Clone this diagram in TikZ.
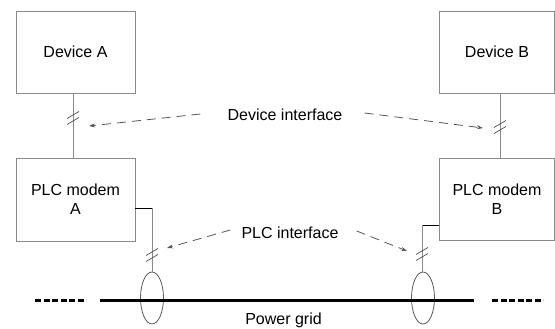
\documentclass[tikz,border=0pt]{standalone}
\usepackage{fontspec}
\setmainfont{Liberation Sans}
\usetikzlibrary{arrows.meta,shapes.geometric}
\definecolor{boxgray}{HTML}{8A8A8A}
\definecolor{arrgray}{HTML}{555555}
\tikzset{
  box/.style={draw=boxgray, line width=0.9pt, align=center, inner sep=0pt},
  lbl/.style={inner sep=1pt},
  wire/.style={draw=boxgray, line width=0.9pt},
  stub/.style={draw=black, line width=0.8pt},
  hatch/.style={draw=black!70, line width=0.7pt},
  iface/.style={draw=arrgray, line width=0.8pt, dash pattern=on 9pt off 6pt, -{Stealth[length=6pt,width=4pt]}},
  grid/.style={line width=3pt},
  gridd/.style={line width=3pt, dash pattern=on 6pt off 2.5pt},
  ring/.style={draw=black!65, line width=0.8pt, ellipse, minimum width=23pt, minimum height=52pt, inner sep=0pt},
}
\begin{document}
\begin{tikzpicture}[x=1pt,y=-1pt, font=\fontsize{16}{19}\selectfont]
\useasboundingbox (0,0) rectangle (555,329);
% boxes
\node[box, minimum width=119pt, minimum height=82pt] (DevA) at (75.5,52) {Device A};
\node[box, minimum width=115pt, minimum height=82pt] (DevB) at (497,52) {Device B};
\node[box, minimum width=119pt, minimum height=83pt] (PLCA) at (75.5,199.5) {PLC modem\\A};
\node[box, minimum width=115pt, minimum height=82pt] (PLCB) at (497,199) {PLC modem\\B};
% labels
\node[lbl] (dif) at (285,115) {Device interface};
\node[lbl] (pif) at (290,233) {PLC interface};
\node[lbl] (pg) at (283.5,320) {Power grid};
% ellipses
\node[ring] (ringA) at (152,298) {};
\node[ring] (ringB) at (423,298) {};
% device wires
\draw[wire] ([xshift=-2.5pt]DevA.south) -- ([xshift=-2.5pt]PLCA.north);
\draw[wire] ([xshift=3pt]DevB.south) -- ([xshift=3pt]PLCB.north);
% PLC wires
\coordinate (ka) at (152,208);
\coordinate (kb) at (422,225);
\draw[stub] (PLCA.east |- ka) -- (ka);
\draw[wire] (ka) -- (ringA.north);
\draw[stub] (PLCB.west |- kb) -- (kb);
\draw[wire] (kb) -- (kb |- ringB.north);
% hatches
\coordinate (hA) at (73,118);
\coordinate (hB) at (500,127);
\coordinate (hC) at (152,255);
\coordinate (hD) at (422,254);
\foreach \h in {hA,hB,hC,hD}{
  \draw[hatch] ([shift={(-6,6.5)}]\h) -- ([shift={(6,-0.5)}]\h);
  \draw[hatch] ([shift={(-6,0.5)}]\h) -- ([shift={(6,-6.5)}]\h);
}
% interface arrows
\coordinate (tA) at (89,126);
\coordinate (tB) at (483,128);
\coordinate (tC) at (167,248);
\coordinate (tD) at (407,251);
\draw[iface] ([xshift=-26pt,yshift=1pt]dif.west) -- (tA);
\draw[iface] ([xshift=21pt,yshift=2pt]dif.east) -- (tB);
\draw[iface] ([xshift=-10pt,yshift=3pt]pif.west) -- (tC);
\draw[iface] ([xshift=17pt,yshift=2pt]pif.east) -- (tD);
% power grid
\coordinate (g1) at (100,300);
\coordinate (g2) at (474,300);
\coordinate (d1) at (35,300);
\coordinate (d2) at (86,300);
\coordinate (d3) at (492,300);
\coordinate (d4) at (543,300);
\draw[grid] (g1) -- (g2);
\draw[gridd] (d1) -- (d2);
\draw[gridd] (d3) -- (d4);
\end{tikzpicture}
\end{document}
